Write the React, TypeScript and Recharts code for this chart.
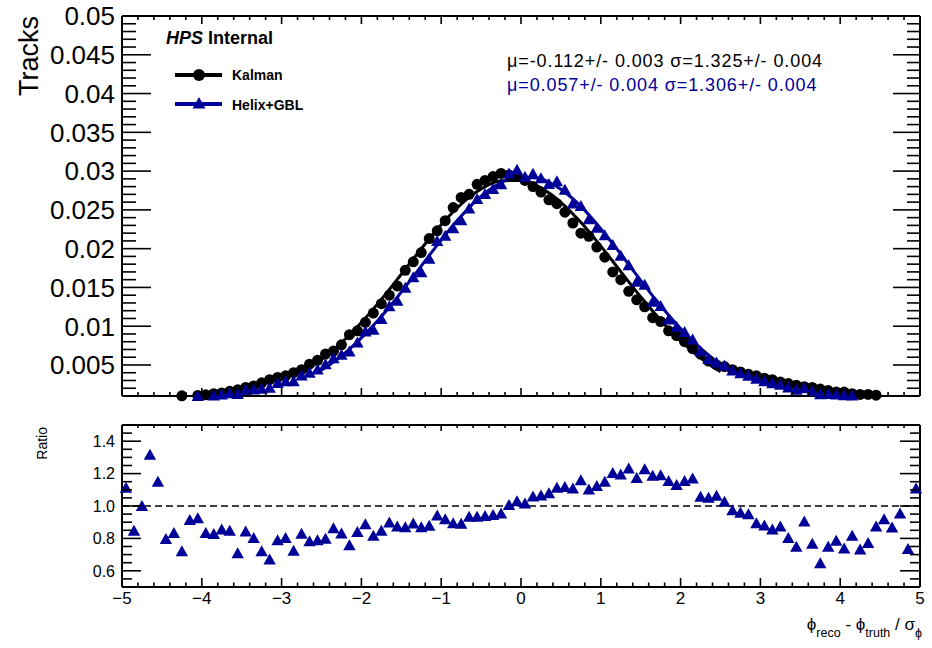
import React from "react";
import { ComposedChart, Scatter, Line, XAxis, YAxis, ReferenceLine } from "recharts";

// bin centres of the 100 bins between -5 and 5
const BIN_CENTERS = [
  -4.95, -4.85, -4.75, -4.65, -4.55, -4.45, -4.35, -4.25, -4.15, -4.05,
  -3.95, -3.85, -3.75, -3.65, -3.55, -3.45, -3.35, -3.25, -3.15, -3.05,
  -2.95, -2.85, -2.75, -2.65, -2.55, -2.45, -2.35, -2.25, -2.15, -2.05,
  -1.95, -1.85, -1.75, -1.65, -1.55, -1.45, -1.35, -1.25, -1.15, -1.05,
  -0.95, -0.85, -0.75, -0.65, -0.55, -0.45, -0.35, -0.25, -0.15, -0.05,
  0.05, 0.15, 0.25, 0.35, 0.45, 0.55, 0.65, 0.75, 0.85, 0.95,
  1.05, 1.15, 1.25, 1.35, 1.45, 1.55, 1.65, 1.75, 1.85, 1.95,
  2.05, 2.15, 2.25, 2.35, 2.45, 2.55, 2.65, 2.75, 2.85, 2.95,
  3.05, 3.15, 3.25, 3.35, 3.45, 3.55, 3.65, 3.75, 3.85, 3.95,
  4.05, 4.15, 4.25, 4.35, 4.45, 4.55, 4.65, 4.75, 4.85, 4.95,
];

const KALMAN = [
  0.00055, 0.0006, 0.00065, 0.0007, 0.00075, 0.0008, 0.00085, 0.00102, 0.00098, 0.00108,
  0.00115, 0.0013, 0.0014, 0.0016, 0.0018, 0.0021, 0.0023, 0.0027, 0.0031, 0.0034,
  0.0036, 0.004, 0.0044, 0.0051, 0.0056, 0.0064, 0.0068, 0.0076, 0.0089, 0.0094,
  0.0105, 0.0117, 0.0129, 0.014, 0.0152, 0.0172, 0.0183, 0.0195, 0.0213, 0.0223,
  0.0236, 0.0253, 0.0266, 0.027, 0.0283, 0.0288, 0.0293, 0.0297, 0.0295, 0.0293,
  0.0288, 0.028, 0.0273, 0.0263, 0.0258, 0.0247, 0.0233, 0.022, 0.0216, 0.0202,
  0.0189, 0.017, 0.016, 0.0145, 0.0134, 0.0125, 0.0111, 0.0106, 0.0094, 0.0088,
  0.008, 0.0071, 0.0064, 0.0055, 0.005, 0.0048, 0.0044, 0.0041, 0.0038, 0.0036,
  0.0033, 0.0031, 0.0028, 0.0026, 0.0024, 0.0022, 0.0021, 0.0019, 0.0017, 0.0015,
  0.0015, 0.0013, 0.0012, 0.0012, 0.0011, 0.00095, 0.0009, 0.00085, 0.0008, 0.00075,
];

const HELIX_GBL = [
  0.00061, 0.00051, 0.00065, 0.00092, 0.00086, 0.00064, 0.00071, 0.00073, 0.0009, 0.00101,
  0.00096, 0.00108, 0.0012, 0.00136, 0.00127, 0.00177, 0.00184, 0.00194, 0.00207, 0.00268,
  0.00289, 0.0029, 0.00365, 0.00399, 0.00441, 0.00511, 0.00587, 0.00631, 0.00674, 0.00789,
  0.00932, 0.00955, 0.01093, 0.01257, 0.01327, 0.01495, 0.01632, 0.01695, 0.0187, 0.02098,
  0.02166, 0.02262, 0.02367, 0.02519, 0.0264, 0.02704, 0.02769, 0.0283, 0.02968, 0.03018,
  0.02926, 0.02965, 0.02907, 0.02835, 0.02869, 0.02761, 0.02582, 0.0255, 0.0238, 0.0227,
  0.02172, 0.02047, 0.0191, 0.01785, 0.01572, 0.01534, 0.01316, 0.01261, 0.01086, 0.00994,
  0.00924, 0.0083, 0.00676, 0.00578, 0.00532, 0.00493, 0.00428, 0.00393, 0.00361, 0.00322,
  0.0029, 0.00265, 0.00244, 0.00209, 0.0018, 0.00199, 0.00161, 0.00123, 0.00127, 0.00118,
  0.00111, 0.00106, 0.00088, 0.00093, 0.00096, 0.00087, 0.00078, 0.00081, 0.00059, 0.00083,
];

const RATIO = [
  1.112, 0.847, 1.0, 1.316, 1.149, 0.796, 0.833, 0.72, 0.914, 0.925,
  0.833, 0.827, 0.855, 0.847, 0.708, 0.843, 0.802, 0.72, 0.669, 0.788,
  0.802, 0.724, 0.829, 0.782, 0.788, 0.798, 0.863, 0.83, 0.757, 0.839,
  0.888, 0.816, 0.847, 0.898, 0.873, 0.869, 0.892, 0.869, 0.878, 0.941,
  0.918, 0.894, 0.89, 0.933, 0.933, 0.939, 0.945, 0.953, 1.006, 1.03,
  1.016, 1.059, 1.065, 1.078, 1.112, 1.118, 1.108, 1.159, 1.102, 1.124,
  1.149, 1.204, 1.194, 1.231, 1.173, 1.227, 1.186, 1.19, 1.155, 1.129,
  1.155, 1.169, 1.057, 1.051, 1.063, 1.027, 0.973, 0.959, 0.949, 0.894,
  0.88, 0.855, 0.873, 0.802, 0.749, 0.904, 0.767, 0.647, 0.749, 0.786,
  0.737, 0.816, 0.731, 0.771, 0.873, 0.918, 0.867, 0.953, 0.735, 1.108,
];

// gaussian fits, sampled inside the fit range
const KALMAN_FIT_X = [
  -2.75, -2.5, -2.25, -2.0, -1.75, -1.5, -1.25, -1.0, -0.75, -0.5, -0.25,
  0, 0.25, 0.5, 0.75, 1.0, 1.25, 1.5, 1.75, 2.0, 2.25, 2.5,
];
const KALMAN_FIT_Y = [
  0.00398, 0.0057, 0.00786, 0.01047, 0.01346, 0.0167, 0.01999, 0.02309, 0.02574, 0.02769, 0.02874,
  0.0288, 0.02784, 0.02598, 0.02339, 0.02032, 0.01704, 0.01379, 0.01077, 0.00811, 0.0059, 0.00414,
];
const HELIX_FIT_X = [
  -2.55, -2.3, -2.05, -1.8, -1.55, -1.3, -1.05, -0.8, -0.55, -0.3, -0.05,
  0.2, 0.45, 0.7, 0.95, 1.2, 1.45, 1.7, 1.95, 2.2, 2.45, 2.65,
];
const HELIX_FIT_Y = [
  0.004, 0.00575, 0.00798, 0.01066, 0.01374, 0.01708, 0.02046, 0.02362, 0.0263, 0.02823, 0.0292,
  0.02912, 0.028, 0.02596, 0.02319, 0.01998, 0.01659, 0.01328, 0.01025, 0.00762, 0.00547, 0.00408,
];

const X_TICKS = [-5, -4, -3, -2, -1, 0, 1, 2, 3, 4, 5];
const X_TICK_LABELS = ["\u22125", "\u22124", "\u22123", "\u22122", "\u22121", "0", "1", "2", "3", "4", "5"];
const TRACK_TICKS = [0.005, 0.01, 0.015, 0.02, 0.025, 0.03, 0.035, 0.04, 0.045, 0.05];
const TRACK_TICK_LABELS = ["0.005", "0.01", "0.015", "0.02", "0.025", "0.03", "0.035", "0.04", "0.045", "0.05"];
const RATIO_TICKS = [0.6, 0.8, 1.0, 1.2, 1.4];
const RATIO_TICK_LABELS = ["0.6", "0.8", "1.0", "1.2", "1.4"];

const Y_MIN = 0.001;
const BLUE = "#000099";
const FONT = "'Liberation Sans', Arial, Helvetica, sans-serif";

// minor tick grids (majors are part of them)
const xMinor = Array.from({ length: 51 }, (_, i) => +(-5 + i * 0.2).toFixed(1));
const trackMinor = Array.from({ length: 50 }, (_, i) => +((i + 1) * 0.001).toFixed(3));
const ratioMinor = Array.from({ length: 19 }, (_, i) => +(0.55 + i * 0.05).toFixed(2));

const kalmanPts = BIN_CENTERS.map((x, i) => ({ x, y: KALMAN[i] })).filter((p) => p.y >= Y_MIN);
const helixPts = BIN_CENTERS.map((x, i) => ({ x, y: HELIX_GBL[i] })).filter((p) => p.y >= Y_MIN);
const ratioPts = BIN_CENTERS.map((x, i) => ({ x, y: RATIO[i] }));
const kalmanFit = KALMAN_FIT_X.map((x, i) => ({ x, y: KALMAN_FIT_Y[i] }));
const helixFit = HELIX_FIT_X.map((x, i) => ({ x, y: HELIX_FIT_Y[i] }));

type Side = "bottom" | "top" | "left" | "right";

const findMajor = (majors: number[], v: number) => majors.findIndex((t) => Math.abs(t - v) < 1e-9);

// ROOT style ticks: drawn inward, long for majors and short for minors
const tickMaker =
  (side: Side, majors: number[], majorLen: number, minorLen: number, labels?: string[], fontSize = 16, offset = 0) =>
  (props: any) => {
    const { x, y, payload } = props;
    const idx = findMajor(majors, payload.value);
    const len = idx >= 0 ? majorLen : minorLen;
    const dx = side === "left" ? len : side === "right" ? -len : 0;
    const dy = side === "bottom" ? -len : side === "top" ? len : 0;
    let text = null;
    if (labels && idx >= 0) {
      if (side === "left") {
        text = (
          <text x={x - offset} y={y} dy={fontSize * 0.36} textAnchor="end" fontSize={fontSize} fontFamily={FONT} fill="#000">
            {labels[idx]}
          </text>
        );
      } else if (side === "bottom") {
        text = (
          <text x={x} y={y + offset} textAnchor="middle" fontSize={fontSize} fontFamily={FONT} fill="#000">
            {labels[idx]}
          </text>
        );
      }
    }
    return (
      <g>
        <line x1={x} y1={y} x2={x + dx} y2={y + dy} stroke="#000" strokeWidth={1.6} />
        {text}
      </g>
    );
  };

const circleShape = (p: any) => <circle cx={p.cx} cy={p.cy} r={5.5} fill="#000" />;
const triangleShape = (p: any) => (
  <polygon points={`${p.cx},${p.cy - 6} ${p.cx - 6.2},${p.cy + 5} ${p.cx + 6.2},${p.cy + 5}`} fill={BLUE} />
);

const frame = { stroke: "#000", strokeWidth: 2 };

const App: React.FC = () => {
  return (
    <div style={{ position: "absolute", left: 0, top: 0, width: 932, height: 648, background: "#fff", fontFamily: FONT }}>
      <div style={{ position: "absolute", left: 0, top: 0 }}>
        <ComposedChart width={932} height={410} margin={{ top: 0, right: 0, bottom: 0, left: 0 }}>
          <XAxis xAxisId="b" dataKey="x" type="number" domain={[-5, 5]} ticks={xMinor} interval={0}
            height={14} tickSize={0} tickMargin={0} axisLine={frame} tickLine={false}
            tick={tickMaker("bottom", X_TICKS, 8, 4)} />
          <XAxis xAxisId="t" dataKey="x" type="number" orientation="top" domain={[-5, 5]} allowDataOverflow
            ticks={xMinor} interval={0} height={16} tickSize={0} tickMargin={0} axisLine={frame} tickLine={false}
            tick={tickMaker("top", X_TICKS, 8, 4)} />
          <YAxis yAxisId="l" dataKey="y" type="number" domain={[Y_MIN, 0.05]} ticks={trackMinor} interval={0}
            width={122} tickSize={0} tickMargin={0} axisLine={frame} tickLine={false}
            tick={tickMaker("left", TRACK_TICKS, 29, 14, TRACK_TICK_LABELS, 26, 7)} />
          <YAxis yAxisId="r" dataKey="y" type="number" orientation="right" domain={[Y_MIN, 0.05]} allowDataOverflow
            ticks={trackMinor} interval={0} width={12} tickSize={0} tickMargin={0} axisLine={frame} tickLine={false}
            tick={tickMaker("right", TRACK_TICKS, 27, 13)} />
          <Scatter name="Kalman" data={kalmanPts} dataKey="y" xAxisId="b" yAxisId="l" shape={circleShape} isAnimationActive={false} />
          <Line data={kalmanFit} dataKey="y" xAxisId="b" yAxisId="l" type="monotone" stroke="#000" strokeWidth={3}
            dot={false} activeDot={false} isAnimationActive={false} />
          <Scatter name="Helix+GBL" data={helixPts} dataKey="y" xAxisId="b" yAxisId="l" shape={triangleShape} isAnimationActive={false} />
          <Line data={helixFit} dataKey="y" xAxisId="b" yAxisId="l" type="monotone" stroke={BLUE} strokeWidth={3}
            dot={false} activeDot={false} isAnimationActive={false} />
        </ComposedChart>
      </div>

      <div style={{ position: "absolute", left: 0, top: 410 }}>
        <ComposedChart width={932} height={238} margin={{ top: 0, right: 0, bottom: 0, left: 0 }}>
          <XAxis xAxisId="b" dataKey="x" type="number" domain={[-5, 5]} ticks={xMinor} interval={0}
            height={61} tickSize={0} tickMargin={0} axisLine={frame} tickLine={false}
            tick={tickMaker("bottom", X_TICKS, 9, 4.5, X_TICK_LABELS, 17, 17)} />
          <XAxis xAxisId="t" dataKey="x" type="number" orientation="top" domain={[-5, 5]} allowDataOverflow
            ticks={xMinor} interval={0} height={15} tickSize={0} tickMargin={0} axisLine={frame} tickLine={false}
            tick={tickMaker("top", X_TICKS, 6, 3)} />
          <YAxis yAxisId="l" dataKey="y" type="number" domain={[0.5, 1.5]} ticks={ratioMinor} interval={0}
            width={122} tickSize={0} tickMargin={0} axisLine={frame} tickLine={false}
            tick={tickMaker("left", RATIO_TICKS, 19, 10, RATIO_TICK_LABELS, 16, 7)} />
          <YAxis yAxisId="r" dataKey="y" type="number" orientation="right" domain={[0.5, 1.5]} allowDataOverflow
            ticks={ratioMinor} interval={0} width={12} tickSize={0} tickMargin={0} axisLine={frame} tickLine={false}
            tick={tickMaker("right", RATIO_TICKS, 20, 10)} />
          <ReferenceLine y={1} xAxisId="b" yAxisId="l" stroke="#000" strokeWidth={1.5} strokeDasharray="7 4" />
          <Scatter name="Ratio" data={ratioPts} dataKey="y" xAxisId="b" yAxisId="l" shape={triangleShape} isAnimationActive={false} />
        </ComposedChart>
      </div>

      <svg width={932} height={648} style={{ position: "absolute", left: 0, top: 0, pointerEvents: "none" }} fontFamily={FONT}>
        <text transform="translate(38,16) rotate(-90)" textAnchor="end" fontSize={27} fill="#000">Tracks</text>
        <text x={166} y={44} fontSize={18} fontWeight="bold" fill="#000">
          <tspan fontStyle="italic">HPS</tspan> Internal
        </text>

        <line x1={175} y1={75} x2={222} y2={75} stroke="#000" strokeWidth={4} />
        <circle cx={199} cy={75} r={6} fill="#000" />
        <text x={232} y={80} fontSize={14} fontWeight="bold" fill="#000">Kalman</text>
        <line x1={175} y1={104} x2={222} y2={104} stroke={BLUE} strokeWidth={4} />
        <polygon points="199,97 192.5,108.5 205.5,108.5" fill={BLUE} />
        <text x={232} y={110} fontSize={14} fontWeight="bold" fill="#000">Helix+GBL</text>

        <text x={507} y={67} fontSize={18} letterSpacing={0.9} fill="#000">
          μ=-0.112+/- 0.003 σ=1.325+/- 0.004
        </text>
        <text x={507} y={91} fontSize={18} letterSpacing={0.9} fill={BLUE}>
          μ=0.057+/- 0.004 σ=1.306+/- 0.004
        </text>

        <text transform="translate(47,427) rotate(-90)" textAnchor="end" fontSize={14} fill="#000">Ratio</text>

        <text x={922} y={630} textAnchor="end" fontSize={17} fill="#000">
          ϕ<tspan fontSize={12.5} dy={7}>reco</tspan>
          <tspan dy={-7}> - ϕ</tspan>
          <tspan fontSize={12.5} dy={7}>truth</tspan>
          <tspan dy={-7}> / σ</tspan>
          <tspan fontSize={12.5} dy={7}>ϕ</tspan>
        </text>
      </svg>
    </div>
  );
};

export default App;
